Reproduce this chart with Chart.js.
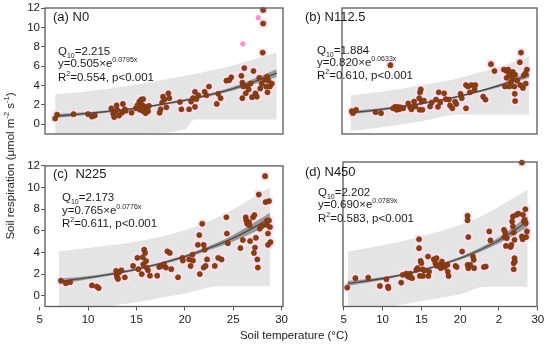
<!DOCTYPE html>
<html>
<head>
<meta charset="utf-8">
<script src="https://cdn.jsdelivr.net/npm/chart.js@4.4.1/dist/chart.umd.min.js"></script>
<style>
body{margin:0;background:#fff;}
#wrap{position:relative;width:550px;height:345px;overflow:hidden;font-family:'Liberation Sans',Arial,sans-serif;color:#1a1a1a;}
canvas{position:absolute;}
.t{position:absolute;white-space:nowrap;font-size:11.5px;line-height:14px;}
.t sub,.t sup{font-size:7px;line-height:0;}
.lab{position:absolute;white-space:nowrap;font-size:13px;line-height:16px;}
.ax{position:absolute;white-space:nowrap;font-size:11.5px;line-height:14px;text-align:center;width:200px;}
.ax sup{font-size:7.5px;line-height:0;}
</style>
</head>
<body>
<div id="wrap">
<canvas id="pa" width="290" height="160" style="left:0;top:0"></canvas>
<canvas id="pb" width="260" height="160" style="left:290px;top:0"></canvas>
<canvas id="pc" width="290" height="187" style="left:0;top:158px"></canvas>
<canvas id="pd" width="260" height="187" style="left:290px;top:158px"></canvas>

<div class="lab" style="left:53px;top:9px">(a) N0</div>
<div class="lab" style="left:305px;top:9px">(b) N112.5</div>
<div class="lab" style="left:53px;top:166px">(c)&nbsp; N225</div>
<div class="lab" style="left:305px;top:164px">(d) N450</div>

<div class="t" style="left:58px;top:44px">Q<sub>10</sub>=2.215</div>
<div class="t" style="left:58px;top:56px">y=0.505×e<sup>0.0795x</sup></div>
<div class="t" style="left:58px;top:70px">R<sup>2</sup>=0.554, p&lt;0.001</div>

<div class="t" style="left:317px;top:43px">Q<sub>10</sub>=1.884</div>
<div class="t" style="left:317px;top:55px">y=0.820×e<sup>0.0633x</sup></div>
<div class="t" style="left:317px;top:68px">R<sup>2</sup>=0.610, p&lt;0.001</div>

<div class="t" style="left:62px;top:190px">Q<sub>10</sub>=2.173</div>
<div class="t" style="left:62px;top:203px">y=0.765×e<sup>0.0776x</sup></div>
<div class="t" style="left:62px;top:216px">R<sup>2</sup>=0.611, p&lt;0.001</div>

<div class="t" style="left:318px;top:185px">Q<sub>10</sub>=2.202</div>
<div class="t" style="left:318px;top:197px">y=0.690×e<sup>0.0789x</sup></div>
<div class="t" style="left:318px;top:211px">R<sup>2</sup>=0.583, p&lt;0.001</div>

<div class="ax" style="left:194px;top:328px">Soil temperature (°C)</div>
<div class="ax" style="left:-90px;top:159px;transform:rotate(-90deg)">Soil respiration (μmol m<sup>-2</sup> s<sup>-1</sup>)</div>
</div>

<script>
// ticks
const yTicks = [0, 2, 4, 6, 8, 10, 12];
const xTicks = [5, 10, 15, 20, 25, 30];
const xLabelsC = ['5', '10', '15', '20', '25', '30'];
const xLabelsD = ['5', '10', '15', '20', '2', '30'];

// (a) N0
const n0T = [6.6,6.8,8.5,10.0,10.4,10.7,12.4,12.6,12.7,12.85,12.95,13.0,13.2,13.5,13.6,13.8,13.9,14.5,14.95,15.1,15.3,15.35,15.5,15.6,15.7,15.7,15.9,15.95,16.1,16.2,16.3,17.4,17.5,17.65,17.75,17.9,18.1,18.3,18.4,19.5,19.65,20.45,20.65,20.85,21.05,21.2,21.05,21.4,22.05,22.25,22.5,23.3,23.45,23.7,24.3,24.6,24.8,25.85,25.95,26.05,26.15,25.95,26.3,26.45,26.6,26.8,26.95,27.1,27.3,27.45,27.7,27.8,27.95,28.1,28.1,28.05,28.3,28.4,28.55,28.65,28.8,29.0,28.5];
const n0R = [0.6,1.0,1.05,1.05,0.8,0.9,1.65,1.1,0.75,1.35,1.95,1.5,0.9,1.2,2.1,1.55,1.4,1.2,1.65,1.95,2.35,1.5,2.55,2.0,1.35,2.6,1.8,1.15,1.75,1.35,1.9,1.2,1.55,2.25,2.85,2.55,1.75,3.2,2.7,2.3,1.55,1.55,2.35,2.7,1.8,2.6,3.35,3.0,3.35,3.0,3.9,2.1,3.15,2.7,4.5,4.55,4.85,5.0,4.3,3.9,5.8,2.7,3.2,3.95,3.6,4.2,2.8,5.5,3.2,2.85,4.8,3.7,4.2,11.8,10.4,7.4,4.6,3.9,3.3,4.5,3.9,4.2,4.9];
const n0OutT = [26.0, 27.6];
const n0OutR = [8.3, 11.0];
const n0BandT = [6.6, 10, 15, 20, 21, 25, 29.5];
const n0Fit  = [0.85, 1.12, 1.66, 2.48, 2.68, 3.68, 5.27];
const n0CiLo = [0.65, 0.98, 1.56, 2.36, 2.55, 3.48, 4.87];
const n0CiHi = [1.05, 1.26, 1.76, 2.60, 2.81, 3.88, 5.67];
const n0PiLo = [-1.6, -1.4, -1.0, -0.5, 0.5, 0.5, 0.5];
const n0PiHi = [3.1, 3.4, 4.1, 5.0, 5.2, 6.1, 7.4];

// (b) N112.5
const n112T = [6.15,6.3,6.7,9.2,9.9,11.45,11.7,11.9,12.05,12.25,12.4,12.75,13.4,13.65,13.8,14.15,14.3,14.8,14.9,15.0,14.85,15.1,15.2,15.4,16.2,16.4,16.95,17.2,17.3,17.5,18.0,18.2,18.6,18.75,19.05,19.4,19.55,20.1,20.25,20.8,20.8,21.05,21.3,21.5,22.0,21.9,23.0,23.3,24.0,24.45,25.65,26.0,26.2,26.35,26.55,26.7,26.8,27.0,27.1,27.35,27.05,27.7,27.85,27.75,28.1,28.2,28.4,28.6,28.45,26.35,27.1,25.8,26.0,11.1];
const n112R = [1.35,1.15,1.5,1.25,1.15,1.65,1.8,1.5,1.8,1.55,1.75,1.65,2.15,1.75,1.55,2.35,1.85,2.7,3.3,3.6,1.5,2.35,1.5,2.45,1.85,2.25,2.55,1.8,3.3,2.25,3.2,2.6,2.55,1.95,1.65,2.35,2.1,3.15,2.7,1.65,4.05,3.9,3.3,4.05,4.05,3.6,2.85,2.55,6.2,5.5,5.65,5.5,5.65,5.15,4.35,4.8,5.4,3.9,5.1,4.5,3.15,6.4,7.4,4.05,3.75,5.05,5.25,5.65,4.2,3.9,2.4,3.9,4.8,6.1];
const n112BandT = [6.0, 10, 15, 19, 20, 25, 28.9];
const n112Fit  = [1.19, 1.55, 2.12, 2.73, 2.90, 3.98, 5.10];
const n112CiLo = [1.02, 1.43, 2.03, 2.63, 2.80, 3.82, 4.80];
const n112CiHi = [1.36, 1.67, 2.21, 2.83, 3.00, 4.14, 5.40];
const n112PiLo = [-0.7, -0.3, 0.3, 0.95, 1.0, 1.0, 1.0];
const n112PiHi = [3.0, 3.35, 4.0, 4.6, 4.8, 5.9, 7.0];

// (c) N225
const n225T = [7.2,7.7,8.15,10.4,10.9,11.1,12.9,12.95,13.0,13.1,13.2,13.45,13.8,14.65,15.1,15.2,15.55,15.65,15.7,15.8,15.9,16.0,16.05,16.2,16.4,17.15,17.35,17.6,17.85,18.05,18.2,18.45,18.6,19.3,19.75,19.8,20.45,20.6,20.8,20.85,21.35,21.5,21.55,21.8,21.95,22.05,21.95,22.15,22.3,23.1,23.45,23.8,24.3,24.35,24.45,25.75,26.0,26.3,26.35,26.45,26.65,26.7,26.75,27.05,27.2,27.25,27.15,27.35,27.5,27.55,27.65,27.75,28.0,28.3,28.35,28.7,28.5,28.7,28.6,28.6,28.85,28.45,28.8];
const n225R = [1.4,1.15,1.25,0.95,0.85,0.7,2.3,1.95,1.7,1.55,2.15,2.35,1.7,2.75,3.5,2.45,2.0,3.55,2.9,4.25,3.95,3.2,2.6,2.35,1.85,1.85,2.65,2.75,2.9,2.6,4.1,3.95,2.45,1.7,3.5,3.25,3.35,2.75,3.8,3.25,4.7,5.6,2.0,6.65,4.7,4.25,2.6,2.75,3.35,2.75,3.5,3.35,7.25,5.75,4.85,4.4,5.15,7.25,6.95,6.65,6.8,6.5,5.05,7.25,7.45,4.45,3.95,5.35,3.35,2.6,9.35,6.2,6.45,11.05,8.65,8.75,6.95,6.95,5.75,4.7,4.95,6.55,6.35];
const n225BandT = [7.0, 10, 15, 20, 23.3, 25, 28.8];
const n225Fit  = [1.31, 1.66, 2.44, 3.61, 4.67, 5.32, 7.12];
const n225CiLo = [1.06, 1.51, 2.32, 3.46, 4.45, 5.02, 6.57];
const n225CiHi = [1.56, 1.81, 2.56, 3.76, 4.89, 5.62, 7.67];
const n225PiLo = [-1.5, -1.2, -0.6, 0.2, 0.85, 0.87, 0.87];
const n225PiHi = [4.1, 4.4, 5.0, 6.05, 7.2, 8.0, 10.0];

// (d) N450
const n450T = [5.45,6.5,8.15,9.65,10.5,10.7,10.75,12.4,12.6,13.05,13.2,13.4,13.55,13.8,14.35,14.5,14.7,14.7,14.8,14.9,15.0,15.15,15.2,15.4,15.85,15.9,16.0,16.6,16.8,16.95,17.0,17.25,17.5,17.65,17.8,18.0,18.35,18.4,18.5,19.4,19.55,20.25,20.95,20.95,21.05,20.95,21.05,21.3,21.65,21.75,21.8,23.05,23.3,23.75,23.9,25.65,25.7,25.8,25.9,26.0,26.5,26.6,26.8,26.7,26.8,26.9,27.0,27.0,26.9,26.9,27.05,27.25,27.5,27.95,27.95,28.05,28.1,28.2,28.3,28.4,28.45,28.5,28.6];
const n450R = [0.7,1.55,1.6,0.85,1.45,0.8,0.65,1.15,1.85,1.95,1.75,1.65,1.95,1.55,2.3,2.45,5.05,4.25,1.75,3.1,2.9,2.35,1.75,2.25,3.5,1.75,2.15,3.25,2.9,3.35,2.65,2.75,2.45,3.05,2.6,2.55,2.75,2.15,1.75,2.65,2.55,3.95,7.15,6.75,5.25,2.75,2.45,2.75,3.5,3.2,2.45,2.55,2.6,5.75,4.95,5.9,5.25,5.65,4.45,5.15,4.35,4.55,7.1,6.65,6.2,5.65,5.0,3.35,2.9,2.35,3.05,7.25,7.35,11.95,5.3,5.05,7.25,6.65,6.8,7.75,6.5,5.25,5.75];
const n450BandT = [5.5, 10, 15, 20, 23, 25, 28.7];
const n450Fit  = [1.07, 1.52, 2.25, 3.34, 4.24, 4.96, 6.64];
const n450CiLo = [0.85, 1.38, 2.14, 3.20, 4.04, 4.70, 6.14];
const n450CiHi = [1.29, 1.66, 2.36, 3.48, 4.44, 5.22, 7.14];
const n450PiLo = [-1.3, -1.1, -0.5, 0.1, 0.75, 0.78, 0.78];
const n450PiHi = [3.95, 4.5, 5.3, 6.35, 7.2, 8.0, 9.5];

const FONT = "'Liberation Sans', Arial, sans-serif";

function pts(xs, ys) {
    return xs.map((x, i) => ({x: x, y: ys[i]}));
}

// box round each panel
const frame = {
    id: 'frame',
    afterDraw(chart) {
        const a = chart.chartArea, c = chart.ctx;
        c.save();
        c.strokeStyle = '#5a5a5a';
        c.lineWidth = 1.3;
        c.strokeRect(a.left, a.top, a.right - a.left, a.bottom - a.top);
        c.restore();
    }
};

function band(xs, ys, extra) {
    return Object.assign({
        data: pts(xs, ys), showLine: true, pointRadius: 0, pointHoverRadius: 0,
        borderWidth: 1, borderColor: 'transparent', cubicInterpolationMode: 'monotone'
    }, extra || {});
}

function makePanel(id, p) {
    const datasets = [
        {data: pts(p.t, p.r), showLine: false, pointRadius: 2.6, backgroundColor: '#704a12',
         borderColor: '#b0171b', borderWidth: 0.6, clip: 4},
        band(p.bt, p.fit, {borderColor: '#4a4a4a', borderWidth: 1.3}),
        band(p.bt, p.ciHi, {backgroundColor: 'rgba(120,120,120,0.7)', fill: '+1'}),
        band(p.bt, p.ciLo),
        {data: pts(p.t, p.r), showLine: false, pointRadius: 6, pointStyle: 'rect',
         backgroundColor: '#fde2ed', borderWidth: 0},
        band(p.bt, p.piHi, {backgroundColor: '#e4e4e4', fill: '+1'}),
        band(p.bt, p.piLo)
    ];
    if (p.outT) {
        datasets.splice(1, 0, {data: pts(p.outT, p.outR), showLine: false, pointRadius: 2.6,
            backgroundColor: '#ff90d4', borderWidth: 0});
    }
    new Chart(document.getElementById(id), {
        type: 'line',
        data: {datasets: datasets},
        options: {
            responsive: false,
            animation: false,
            events: [],
            layout: {autoPadding: false, padding: p.pad},
            plugins: {legend: {display: false}, tooltip: {enabled: false}},
            scales: {
                x: {
                    type: 'linear', min: p.xmin, max: p.xmax, display: !!p.xLabels,
                    afterFit: s => { s.height = 20; },
                    afterBuildTicks: s => { s.ticks = xTicks.map(v => ({value: v})); },
                    ticks: {
                        autoSkip: false, maxRotation: 0, padding: 2, color: '#1a1a1a',
                        font: {family: FONT, size: 11.5},
                        callback: (v, i) => p.xLabels ? p.xLabels[i] : ''
                    },
                    grid: {drawOnChartArea: false, tickLength: 4, color: '#5a5a5a'},
                    border: {display: false}
                },
                y: {
                    min: -1, max: 12, display: !!p.showY,
                    afterFit: s => { s.width = 45; },
                    afterBuildTicks: s => { s.ticks = yTicks.map(v => ({value: v})); },
                    ticks: {padding: 1, color: '#1a1a1a', font: {family: FONT, size: 11.5}},
                    grid: {drawOnChartArea: false, tickLength: 4, color: '#5a5a5a'},
                    border: {display: false}
                }
            }
        },
        plugins: [frame]
    });
}

makePanel('pa', {t: n0T, r: n0R, outT: n0OutT, outR: n0OutR, bt: n0BandT, fit: n0Fit,
    ciLo: n0CiLo, ciHi: n0CiHi, piLo: n0PiLo, piHi: n0PiHi,
    xmin: 5.55, xmax: 30.15, showY: true, pad: {left: 0, top: 8, right: 7, bottom: 6}});
makePanel('pb', {t: n112T, r: n112R, bt: n112BandT, fit: n112Fit,
    ciLo: n112CiLo, ciHi: n112CiHi, piLo: n112PiLo, piHi: n112PiHi,
    xmin: 4.9, xmax: 29.9, pad: {left: 7, top: 8, right: 13, bottom: 6}});
makePanel('pc', {t: n225T, r: n225R, bt: n225BandT, fit: n225Fit,
    ciLo: n225CiLo, ciHi: n225CiHi, piLo: n225PiLo, piHi: n225PiHi,
    xmin: 5.55, xmax: 30.15, showY: true, xLabels: xLabelsC,
    pad: {left: 0, top: 4, right: 7, bottom: 18.5}});
makePanel('pd', {t: n450T, r: n450R, bt: n450BandT, fit: n450Fit,
    ciLo: n450CiLo, ciHi: n450CiHi, piLo: n450PiLo, piHi: n450PiHi,
    xmin: 4.9, xmax: 29.9, xLabels: xLabelsD,
    pad: {left: 8, top: 4, right: 13, bottom: 18.5}});
</script>
</body>
</html>
